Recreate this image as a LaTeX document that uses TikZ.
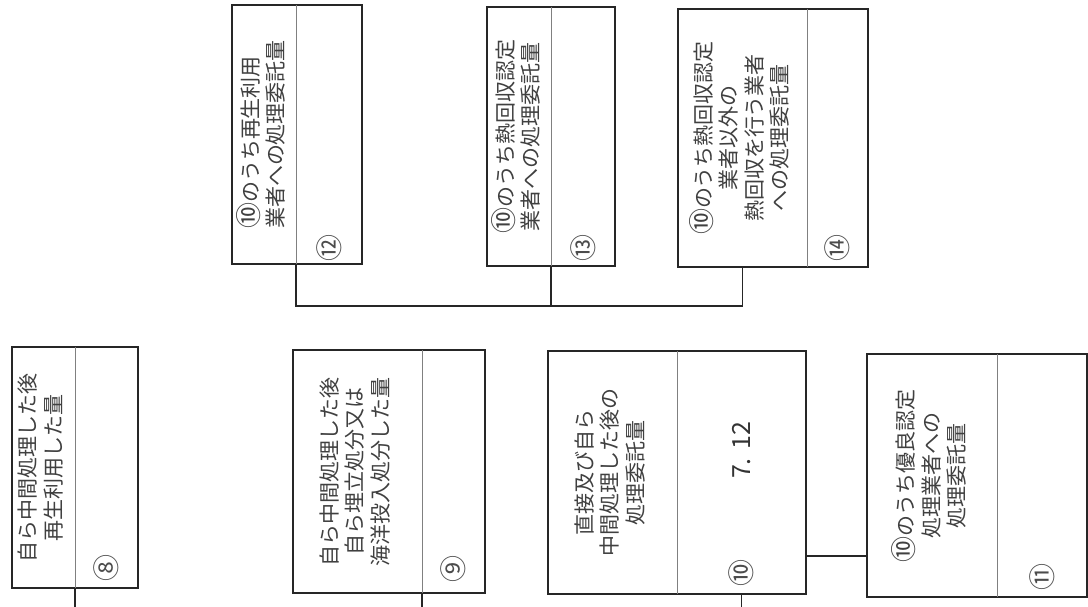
\documentclass[tikz,border=0pt]{standalone}
\usepackage{fontspec}
\newfontfamily\jp{Noto Sans CJK JP}
\usetikzlibrary{positioning}

\newcommand{\tate}[2][c]{\rotatebox{90}{\begin{tabular}{@{}#1@{}}#2\end{tabular}}}
\newcommand{\maru}{{\fontsize{26}{25.5}\selectfont ⑩}}

\begin{document}
\begin{tikzpicture}[x=1pt, y=-1pt,
    cell/.style={inner sep=0pt, outer sep=0pt, text=black!75, font=\jp\fontsize{21}{25.5}\selectfont},
    frame/.style={line width=1.6pt, black!85},
    divider/.style={line width=0.5pt, black!50},
    conn/.style={line width=1.6pt, black!85},
    num/.style={inner sep=0pt, text=black!70, font=\jp\fontsize{27}{27}\selectfont}]
    \useasboundingbox (0,0) rectangle (1088,607);

    % lower row
    \node[cell, minimum width=63, minimum height=241] (l8) at (43.5,467.5) {\tate{自ら中間処理した後\\再生利用した量}};
    \node[cell, minimum width=63, minimum height=241, right=0pt of l8] (v8) {};
    \node[cell, minimum width=129, minimum height=243] (l9) at (357.5,471.5) {\tate{自ら中間処理した後\\自ら埋立処分又は\\海洋投入処分した量}};
    \node[cell, minimum width=63, minimum height=243, right=0pt of l9] (v9) {};
    \node[cell, minimum width=129, minimum height=243] (l10) at (612.5,472.5) {\tate{直接及び自ら\\中間処理した後の\\処理委託量}};
    \node[cell, minimum width=129, minimum height=243, right=0pt of l10] (v10) {};
    \node[cell, minimum width=130, minimum height=243] (l11) at (932,475.5) {\tate{\maru のうち優良認定\\処理業者への\\処理委託量}};
    \node[cell, minimum width=90, minimum height=243, right=0pt of l11] (v11) {};

    % upper row
    \node[cell, minimum width=64, minimum height=259] (l12) at (264,134.5) {\tate[l]{\maru のうち再生利用\\業者への処理委託量}};
    \node[cell, minimum width=66, minimum height=259, right=0pt of l12] (v12) {};
    \node[cell, minimum width=64, minimum height=259] (l13) at (519,136.5) {\tate{\maru のうち熱回収認定\\業者への処理委託量}};
    \node[cell, minimum width=64, minimum height=259, right=0pt of l13] (v13) {};
    \node[cell, minimum width=129, minimum height=258] (l14) at (742.5,138) {\tate{\maru のうち熱回収認定\\業者以外の\\熱回収を行う業者\\への処理委託量}};
    \node[cell, minimum width=61, minimum height=258, right=0pt of l14] (v14) {};

    % numbers and value
    \node[num] (n8) at ([yshift=20pt]v8.south) {\rotatebox{90}{⑧}};
    \node[num] (n9) at ([yshift=24pt]v9.south) {\rotatebox{90}{⑨}};
    \node[num] (n10) at ([yshift=21pt]v10.south) {\rotatebox{90}{⑩}};
    \node[num] (n11) at ([yshift=20pt]v11.south) {\rotatebox{90}{⑪}};
    \node[num] (n12) at ([yshift=16pt]v12.south) {\rotatebox{90}{⑫}};
    \node[num] (n13) at ([yshift=18pt]v13.south) {\rotatebox{90}{⑬}};
    \node[num] (n14) at ([yshift=19pt]v14.south) {\rotatebox{90}{⑭}};
    \node[cell, text=black!80, font=\jp\fontsize{25}{25}\selectfont] (val10) at ([yshift=22pt]v10.center) {\rotatebox{90}{7.\,\,12}};

    % boxes
    \draw[frame] (l8.north west) rectangle (v8.south east);
    \draw[frame] (l9.north west) rectangle (v9.south east);
    \draw[frame] (l10.north west) rectangle (v10.south east);
    \draw[frame] (l11.north west) rectangle (v11.south east);
    \draw[frame] (l12.north west) rectangle (v12.south east);
    \draw[frame] (l13.north west) rectangle (v13.south east);
    \draw[frame] (l14.north west) rectangle (v14.south east);
    \draw[divider] (l8.north east) -- (l8.south east);
    \draw[divider] (l9.north east) -- (l9.south east);
    \draw[divider] (l10.north east) -- (l10.south east);
    \draw[divider] (l11.north east) -- (l11.south east);
    \draw[divider] (l12.north east) -- (l12.south east);
    \draw[divider] (l13.north east) -- (l13.south east);
    \draw[divider] (l14.north east) -- (l14.south east);

    % connectors
    \coordinate (e8) at (l8.south east |- 0,607);
    \coordinate (e9) at (l9.south east |- 0,607);
    \coordinate (e10) at (v10.south |- 0,607);
    \coordinate (bus) at (0,306);
    \coordinate (k) at ([yshift=38pt]v10.south east);
    \draw[conn] (l8.south east) -- (e8);
    \draw[conn] (l9.south east) -- (e9);
    \draw[conn] (v10.south) -- (e10);
    \draw[conn] (k) -- (k -| l11.west);
    \draw[conn] (l12.south east) |- (l14.south |- bus) -- (l14.south);
    \draw[conn] (l13.south east) -- (l13.south east |- bus);
\end{tikzpicture}
\end{document}
